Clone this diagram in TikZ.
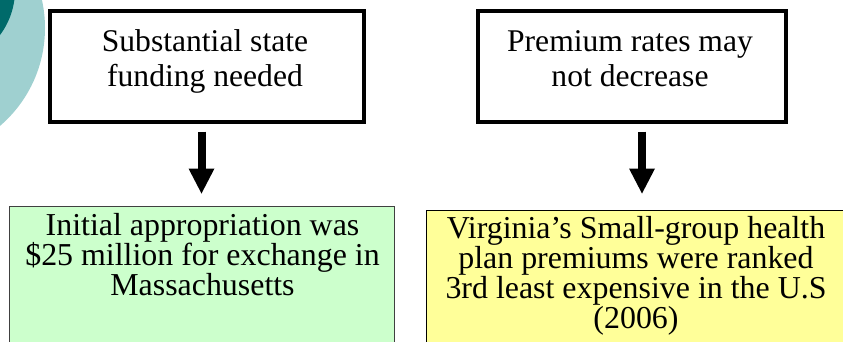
\documentclass[tikz,border=0pt]{standalone}
\usepackage{fontspec}
\setmainfont{Liberation Serif}
\usetikzlibrary{arrows.meta}
\definecolor{tealLight}{HTML}{9FD0D0}
\definecolor{tealDark}{HTML}{006A6A}
\definecolor{greenFill}{HTML}{CCFFCC}
\definecolor{greenEdge}{HTML}{404040}
\definecolor{yellowFill}{HTML}{FFFF99}
\tikzset{
  topbox/.style={draw=black, line width=4pt, fill=white, inner sep=0pt,
    minimum height=111pt},
  lowbox/.style={line width=1pt, inner sep=0pt},
  toptext/.style={anchor=north, align=center, inner sep=0pt,
    font=\fontsize{31.6}{35}\selectfont},
  lowtext/.style={anchor=north, align=center, inner sep=0pt,
    font=\fontsize{31.9}{30}\selectfont},
  blockarrow/.style={draw=black, line width=8pt,
    -{Triangle[width=26pt,length=25pt,line width=0pt]}}
}
\begin{document}
\begin{tikzpicture}[x=1pt,y=-1pt]
  \useasboundingbox (0,0) rectangle (843,341);
  \clip (0,0) rectangle (843,341);
  % decorative circles in the corner
  \fill[tealLight] (-84,28) circle[radius=129];
  \fill[tealDark] (-60,-10) circle[radius=75];

  % upper boxes
  \node[topbox, minimum width=314pt] (funding) at (207,66.5) {};
  \node[topbox, minimum width=308pt] (premium) at (632,66.5) {};
  \node[toptext] (fundingtxt) at (205,27.2) {\strut Substantial state\\funding needed};
  \node[toptext] (premiumtxt) at (630,27.2) {\strut Premium rates may\\not decrease};

  % lower boxes
  \node[lowbox, draw=greenEdge, fill=greenFill, minimum width=385pt,
        minimum height=154pt] (mass) at (201.5,283) {};
  \node[lowbox, draw=black, fill=yellowFill, minimum width=432pt,
        minimum height=150pt] (virginia) at (642,285) {};
  \node[lowtext] (masstxt) at (202.5,213.5)
    {Initial appropriation was\\\$25 million for exchange in\\Massachusetts};
  \node[lowtext] (virginiatxt) at (636,216.5)
    {Virginia’s Small-group health\\plan premiums were ranked\\3rd least expensive in the U.S\\(2006)};

  % connectors
  \draw[blockarrow, shorten <=7.5pt, shorten >=12pt]
    (mass.north |- funding.south) -- (mass.north);
  \draw[blockarrow, shorten <=7.5pt, shorten >=16pt]
    (virginia.north |- premium.south) -- (virginia.north);
\end{tikzpicture}
\end{document}
